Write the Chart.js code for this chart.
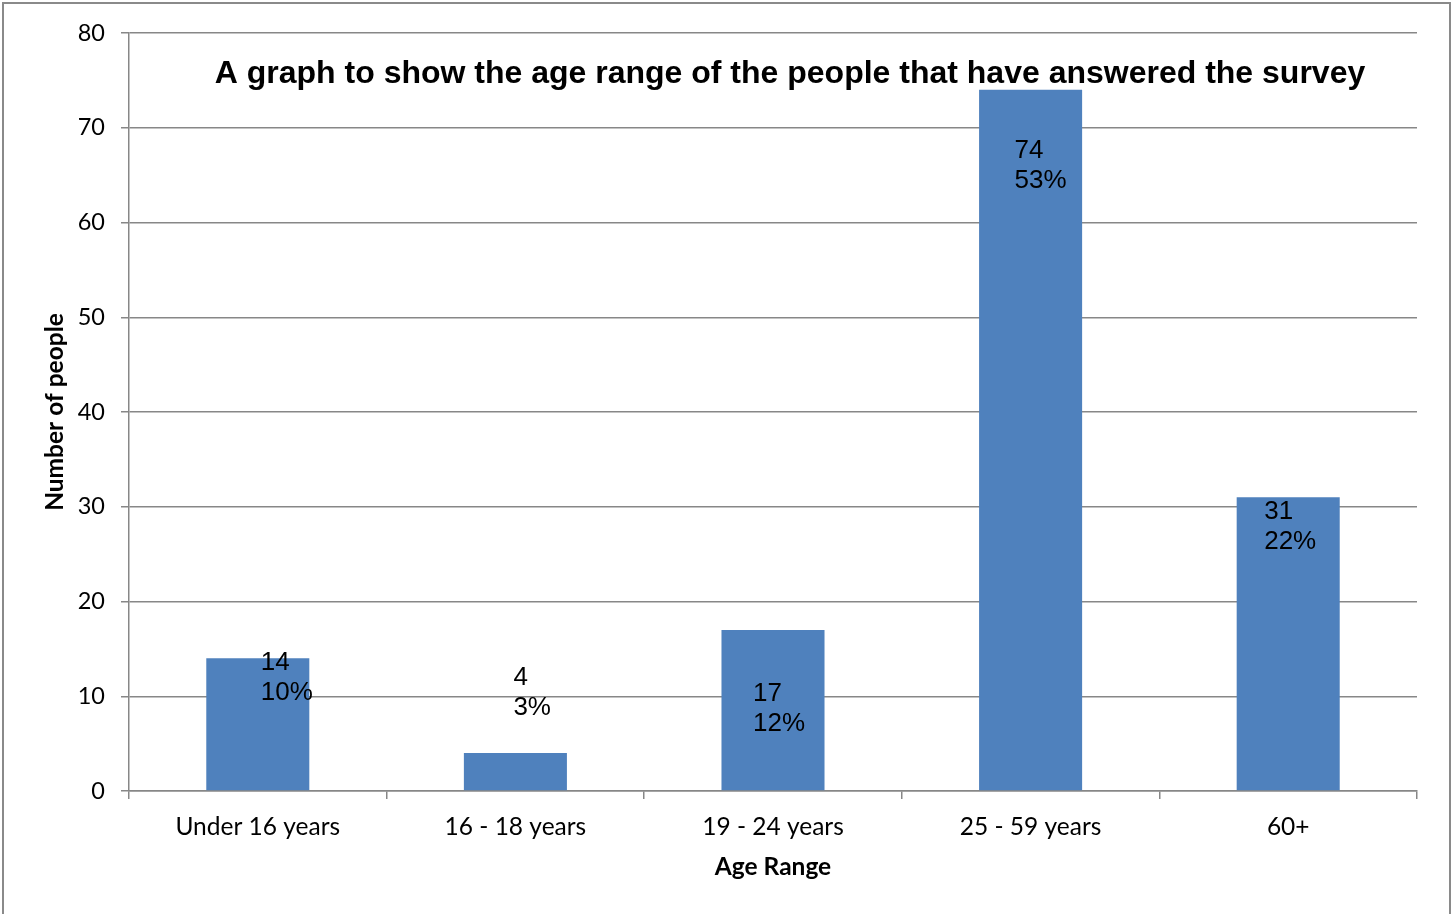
<!DOCTYPE html>
<html>
<head>
<meta charset="utf-8">
<script src="https://cdn.jsdelivr.net/npm/chart.js@4/dist/chart.umd.min.js"></script>
<style>
  html, body { margin: 0; padding: 0; background: #ffffff; }
  #wrap { width: 1454px; height: 914px; position: relative; }
</style>
</head>
<body>
<div id="wrap"><canvas id="chart" width="1454" height="914"></canvas></div>
<script>
// Survey responses by age band
const categories = ['Under 16 years', '16 - 18 years', '19 - 24 years', '25 - 59 years', '60+'];
const responses = [14, 4, 17, 74, 31];
const yTicks = [0, 10, 20, 30, 40, 50, 60, 70, 80];

const chartTitle = 'A graph to show the age range of the people that have answered the survey';
const xTitle = 'Age Range';
const yTitle = 'Number of people';

// Hand-placed label offsets (px) from each bar's top-centre: [dx to text left, dy to first line]
const labelOffsets = [[3, 4], [-2, -75], [-20, 64], [-16, 61], [-24, 15]];

const total = responses.reduce((a, b) => a + b, 0);
const percents = responses.map(v => Math.round(v / total * 100) + '%');

const axisGrey = '#878787';
const calibriLike = 'Lato, "Open Sans", "Liberation Sans", sans-serif';
const arialLike = '"Liberation Sans", Arial, sans-serif';

const frame = {
  id: 'frame',
  beforeDraw(chart) {
    const ctx = chart.ctx;
    ctx.save();
    ctx.fillStyle = '#ffffff';
    ctx.fillRect(0, 0, chart.width, chart.height);
    ctx.strokeStyle = '#8a8a8a';
    ctx.lineWidth = 2;
    ctx.strokeRect(3, 3, chart.width - 7, chart.height + 20);
    ctx.restore();
  }
};

const innerTitle = {
  id: 'innerTitle',
  afterDatasetsDraw(chart) {
    const {ctx, chartArea} = chart;
    ctx.save();
    ctx.font = 'bold 32px ' + arialLike;
    ctx.fillStyle = '#000000';
    ctx.textAlign = 'center';
    ctx.textBaseline = 'middle';
    ctx.fillText(chartTitle, chartArea.left + 661, chartArea.top + 41);
    ctx.restore();
  }
};

const valueLabels = {
  id: 'valueLabels',
  afterDatasetsDraw(chart) {
    const ctx = chart.ctx;
    const meta = chart.getDatasetMeta(0);
    ctx.save();
    ctx.font = '26px ' + arialLike;
    ctx.fillStyle = '#000000';
    ctx.textAlign = 'left';
    ctx.textBaseline = 'middle';
    meta.data.forEach((bar, i) => {
      const [dx, dy] = labelOffsets[i];
      const x = bar.x + dx;
      const y = bar.y + dy;
      ctx.fillText(String(responses[i]), x, y);
      ctx.fillText(percents[i], x, y + 30);
    });
    ctx.restore();
  }
};

new Chart(document.getElementById('chart'), {
  type: 'bar',
  data: {
    labels: categories,
    datasets: [{
      data: responses,
      backgroundColor: '#4F81BD',
      borderWidth: 0,
      barPercentage: 0.4,
      categoryPercentage: 1.0
    }]
  },
  options: {
    responsive: false,
    animation: false,
    events: [],
    layout: { padding: { top: 33, right: 37, bottom: 0, left: 0 } },
    plugins: {
      legend: { display: false },
      tooltip: { enabled: false },
      title: { display: false }
    },
    scales: {
      x: {
        afterFit(scale) { scale.height = 123; },
        grid: {
          offset: true,
          drawOnChartArea: false,
          drawTicks: true,
          tickLength: 8,
          color: axisGrey,
          lineWidth: 1.5
        },
        border: { color: axisGrey, width: 1.5 },
        ticks: {
          color: '#000000',
          font: { family: calibriLike, size: 24.5 },
          padding: 13,
          maxRotation: 0
        },
        title: {
          display: true,
          text: xTitle,
          color: '#000000',
          font: { family: calibriLike, size: 24.5, weight: 'bold' },
          padding: { top: 0, bottom: 32 }
        }
      },
      y: {
        min: 0,
        max: 80,
        afterFit(scale) { scale.width = 129; },
        afterBuildTicks(scale) { scale.ticks = yTicks.map(v => ({ value: v })); },
        grid: {
          drawTicks: true,
          tickLength: 8,
          color: axisGrey,
          lineWidth: 1.5
        },
        border: { color: axisGrey, width: 1.5 },
        ticks: {
          color: '#000000',
          font: { family: calibriLike, size: 23.5 },
          padding: 16
        },
        title: {
          display: true,
          text: yTitle,
          color: '#000000',
          font: { family: calibriLike, size: 24.5, weight: 'bold' },
          padding: { top: 40, bottom: 0 }
        }
      }
    }
  },
  plugins: [frame, innerTitle, valueLabels]
});
</script>
</body>
</html>
